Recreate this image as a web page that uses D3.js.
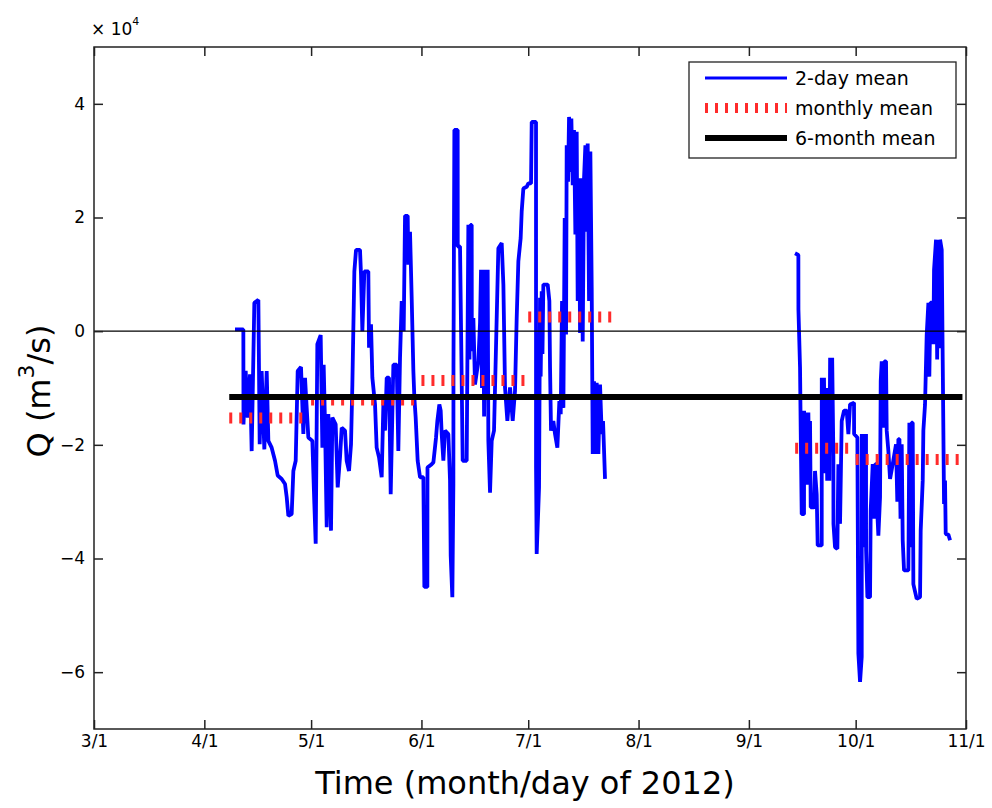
<!DOCTYPE html>
<html>
<head>
<meta charset="utf-8">
<script src="https://cdn.jsdelivr.net/npm/d3@7"></script>
<style>
  body { margin: 0; background: #fff; }
  text { font-family: "DejaVu Sans", sans-serif; fill: #000; }
</style>
</head>
<body>
<script>
// 2-day mean discharge, [days since 3/1/2012, Q in m3/s]
const springSeries = [
  [39.62, 300], [41.96, 300], [42.0, -16400], [42.62, -7000], [43.18, -15200], [43.83, -7600],
  [44.30, -21100], [45.05, 5000], [46.18, 5500], [46.55, -19900], [47.11, -7000], [47.86, -20800],
  [48.52, -7000], [48.99, -19300], [49.92, -20500], [50.86, -22800], [51.61, -25400], [52.73, -26000],
  [53.67, -26900], [54.14, -29200], [54.61, -32500], [55.54, -32200], [56.01, -24600], [56.67, -22800],
  [57.23, -7000], [58.16, -6300], [58.82, -18100], [59.29, -8200], [60.22, -18700], [61.35, -19300],
  [61.91, -30400], [62.29, -37400], [62.75, -2300], [63.69, -700], [64.16, -20500], [64.53, -5900],
  [64.91, -16400], [65.38, -34500], [65.84, -14600], [66.59, -35100], [66.97, -15200], [67.90, -16400],
  [68.47, -27500], [69.12, -22200], [69.59, -17000], [70.53, -17500], [70.99, -22800], [71.65, -24600],
  [72.21, -19900], [72.59, -9400], [73.15, 10500], [73.62, 14300], [74.74, 14300], [75.02, 9900],
  [75.40, 0], [75.96, 10500], [77.08, 10500], [77.27, -2900], [77.83, 1200], [78.21, -8200],
  [78.96, -12900], [79.42, -20500], [80.08, -22200], [80.83, -25700], [81.30, -12900], [81.77, -17500],
  [82.24, -8200], [82.89, -8200], [83.36, -28700], [84.11, -5900], [85.05, -5900], [85.51, -21100],
  [85.98, -4700], [86.45, 5300], [87.01, 0], [87.39, 20300], [88.14, 20300], [88.32, 11700],
  [88.79, 17500], [89.26, 5800], [89.73, -7000], [90.01, -11700], [90.38, -15200], [90.94, -22800],
  [91.60, -25700], [92.54, -25700], [92.82, -45000], [93.66, -45000], [93.7, -24000], [94.88, -23400],
  [95.35, -23100], [96.10, -18700], [96.47, -15800], [97.03, -12900], [97.41, -14000], [97.69, -18100],
  [98.16, -22800], [98.62, -17500], [99.56, -18100], [100.03, -26300], [100.22, -39500], [100.68, -46800],
  [100.97, -26900], [101.0, -6400], [101.25, 35400], [102.18, 35400], [102.2, 14900], [102.84, 14900],
  [103.59, -22800], [104.71, -22800], [105.18, 18700], [105.5, -5000], [105.8, 18700], [106.12, 18700],
  [106.15, -3500], [106.59, 2300], [107.05, -9400], [107.99, -5300], [108.46, 1500], [108.74, 10800],
  [109.0, -10000], [109.3, 10800], [109.6, -15000], [109.9, 10800], [110.2, -12000], [110.61, 10800],
  [110.80, -19300], [111.27, -28400], [111.74, -19300], [112.39, -17500], [113.61, 14600], [114.55, 15500],
  [115.02, 8200], [115.48, -9900], [116.14, -15800], [116.89, -9900], [117.64, -15800], [118.29, -10500],
  [118.76, 2300], [119.23, 12300], [119.88, 16400], [120.17, 21100], [120.63, 25100], [121.57, 25400],
  [122.04, 26000], [122.79, 26000], [122.98, 36800], [124.19, 36800], [124.2, -24000], [124.38, -39200],
  [125.04, -27500], [125.32, 5900], [125.5, -8000], [125.79, 7000], [126.0, -4000], [126.25, 8200],
  [127.47, 8200], [127.94, 5300], [128.13, -6400], [128.41, -17500], [129.06, -15800], [129.53, -18100],
  [130.19, -20500], [130.75, -12300], [131.13, -14600], [131.50, 5300], [131.88, -13500], [132.25, 19900],
  [132.63, -600], [132.81, 32700], [133.19, 26300], [133.47, 37700], [133.75, 28000], [134.12, 37400],
  [134.50, 25700], [134.87, 35400], [135.25, 17000], [135.62, 35100], [135.90, 5300], [136.28, 26900],
  [136.56, -300], [136.93, 26900], [137.31, -1800], [137.68, 26900], [138.06, 32700], [138.43, 17500],
  [138.71, 33000], [139.09, 5300], [139.46, 31600], [139.84, 7600], [140.12, -21600], [140.49, -8800],
  [140.87, -21600], [141.24, -9100], [141.71, -21600], [142.18, -9400], [142.65, -18100], [143.02, -15800],
  [143.58, -26000]
];

const autumnSeries = [
  [196.96, 13700], [197.90, 13400], [197.92, 3800], [198.37, -6400], [198.56, -17500], [198.84, -32200],
  [199.49, -32200], [199.51, -14000], [199.8, -26000], [200.1, -14300], [200.4, -27000], [200.71, -14300],
  [200.95, -25000], [201.18, -15800], [201.37, -31000], [202.30, -31000], [202.58, -24600], [203.05, -28700],
  [203.33, -37700], [204.46, -37700], [204.48, -8200], [204.8, -24000], [205.1, -8200], [205.4, -25000],
  [205.7, -10000], [206.0, -26300], [206.3, -12000], [206.6, -26300], [206.82, -4700], [207.1, -20000],
  [207.4, -4700], [207.74, -22000], [207.76, -33900], [208.20, -38000], [208.86, -38300], [209.14, -23400],
  [209.61, -33900], [210.08, -15800], [210.73, -14000], [211.48, -14000], [211.95, -18100], [212.42, -12900],
  [213.54, -12600], [213.56, -18100], [214.48, -18700], [214.76, -56700], [215.23, -61700], [215.70, -57300],
  [215.72, -18100], [216.0, -36000], [216.3, -18100], [216.6, -38000], [216.91, -18100], [216.93, -38600],
  [217.29, -46800], [218.04, -46800], [218.22, -31600], [218.79, -23400], [219.1, -33000], [219.5, -23400],
  [219.91, -23400], [220.10, -32200], [220.38, -36000], [220.85, -29200], [221.04, -8800], [221.32, -5300],
  [221.7, -17000], [222.1, -5300], [222.53, -5300], [222.72, -17500], [223.19, -21100], [223.66, -26000],
  [224.41, -23400], [225.34, -19900], [225.7, -30000], [226.00, -19000], [226.3, -19000], [226.6, -33000],
  [226.94, -19900], [227.22, -36800], [227.59, -42100], [228.81, -42100], [229.00, -24600], [229.09, -16100],
  [229.4, -38000], [229.7, -16100], [230.03, -16100], [230.21, -44500], [231.15, -47100], [232.09, -46800],
  [232.27, -35100], [232.84, -26300], [233.02, -17500], [233.49, -12900], [233.96, -600], [234.43, 5000],
  [234.7, -8000], [235.0, 5000], [235.37, 5000], [235.83, -2300], [236.02, 10800], [236.58, 16100],
  [236.9, -5000], [237.2, 16100], [237.45, -3000], [237.71, 16100], [238.18, 14300], [238.46, -5300],
  [238.64, -17500], [238.83, -30400], [239.11, -26300], [239.30, -35700], [240.05, -35800], [240.52, -36800]
];

// monthly means
const monthStart = ['2012-04-08', '2012-05-01', '2012-06-01', '2012-07-01', '2012-09-14', '2012-10-01'];
const monthEnd = ['2012-04-30', '2012-05-31', '2012-06-30', '2012-07-25', '2012-09-30', '2012-10-31'];
const monthMean = [-15300, -12100, -8700, 2500, -20600, -22600];

// 6-month mean
const halfYearSpan = ['2012-04-08', '2012-10-31'];
const halfYearMean = -11600;

const tickDates = ['2012-03-01', '2012-04-01', '2012-05-01', '2012-06-01', '2012-07-01',
  '2012-08-01', '2012-09-01', '2012-10-01', '2012-11-01'];
const tickLabels = ['3/1', '4/1', '5/1', '6/1', '7/1', '8/1', '9/1', '10/1', '11/1'];
const yTicks = [-60000, -40000, -20000, 0, 20000, 40000];

const legendNames = ['2-day mean', 'monthly mean', '6-month mean'];

// canvas
var width = 992;
var height = 808;
var plotL = 94, plotR = 966, plotT = 47, plotB = 729;
var x, y, svg;

const t0 = Date.UTC(2012, 2, 1);
const parseDay = d3.utcParse('%Y-%m-%d');
const dayToDate = d => new Date(t0 + d * 864e5);

svg = d3.select('body').append('svg')
  .attr('width', width)
  .attr('height', height)
  .style('background-color', 'white');

configureScales();
drawSeries();
drawMeans();
drawAxes();
drawLegend();
drawLabels();

function configureScales() {
  x = d3.scaleUtc()
    .domain([parseDay(tickDates[0]), parseDay(tickDates[tickDates.length - 1])])
    .range([plotL, plotR]);
  y = d3.scaleLinear()
    .domain([-70000, 50000])
    .range([plotB, plotT]);
}

function drawSeries() {
  const line = d3.line()
    .x(d => x(dayToDate(d[0])))
    .y(d => y(d[1]));

  [springSeries, autumnSeries].forEach(s => {
    svg.append('path')
      .datum(s)
      .attr('fill', 'none')
      .attr('stroke', '#0000ff')
      .attr('stroke-width', 3.8)
      .attr('stroke-linejoin', 'bevel')
      .attr('d', line);
  });
}

function drawMeans() {
  monthMean.forEach((m, i) => {
    svg.append('line')
      .attr('x1', x(parseDay(monthStart[i])))
      .attr('x2', x(parseDay(monthEnd[i])))
      .attr('y1', y(m))
      .attr('y2', y(m))
      .attr('stroke', '#ff2b2b')
      .attr('stroke-width', 11)
      .attr('stroke-dasharray', '3,7');
  });

  svg.append('line')
    .attr('x1', x(parseDay(halfYearSpan[0])))
    .attr('x2', x(parseDay(halfYearSpan[1])))
    .attr('y1', y(halfYearMean))
    .attr('y2', y(halfYearMean))
    .attr('stroke', '#000')
    .attr('stroke-width', 6);

  // zero line
  svg.append('line')
    .attr('x1', plotL).attr('x2', plotR)
    .attr('y1', y(0)).attr('y2', y(0))
    .attr('stroke', '#000')
    .attr('stroke-width', 1.3);
}

function drawAxes() {
  const xTickVals = tickDates.map(parseDay);

  const gx = svg.append('g')
    .attr('transform', 'translate(0,' + plotB + ')')
    .call(d3.axisBottom(x).tickValues(xTickVals).tickSize(-9).tickPadding(6)
      .tickFormat((d, i) => tickLabels[i]));
  const gxTop = svg.append('g')
    .attr('transform', 'translate(0,' + plotT + ')')
    .call(d3.axisTop(x).tickValues(xTickVals).tickSize(-9).tickFormat(''));

  const gy = svg.append('g')
    .attr('transform', 'translate(' + plotL + ',0)')
    .call(d3.axisLeft(y).tickValues(yTicks).tickSize(-9).tickPadding(9)
      .tickFormat(d => d3.format('d')(d / 1e4)));
  const gyRight = svg.append('g')
    .attr('transform', 'translate(' + plotR + ',0)')
    .call(d3.axisRight(y).tickValues(yTicks).tickSize(-9).tickFormat(''));

  [gx, gxTop, gy, gyRight].forEach(g => {
    g.select('.domain').remove();
    g.selectAll('line').attr('stroke', '#222').attr('stroke-width', 1.5);
    g.selectAll('text').style('font-size', '17px').style('font-family', '"DejaVu Sans", sans-serif');
  });

  svg.append('rect')
    .attr('x', plotL).attr('y', plotT)
    .attr('width', plotR - plotL).attr('height', plotB - plotT)
    .attr('fill', 'none')
    .attr('stroke', '#222')
    .attr('stroke-width', 1.5);
}

function drawLegend() {
  const lg = svg.append('g').attr('transform', 'translate(689,62)');
  lg.append('rect')
    .attr('width', 267).attr('height', 96)
    .attr('fill', '#fff')
    .attr('stroke', '#222')
    .attr('stroke-width', 1.3);

  const styles = [
    { stroke: '#0000ff', w: 3, dash: null },
    { stroke: '#ff2b2b', w: 10, dash: '3,7' },
    { stroke: '#000', w: 6, dash: null }
  ];
  legendNames.forEach((name, i) => {
    const yy = 16 + i * 30;
    lg.append('line')
      .attr('x1', 16).attr('x2', 98)
      .attr('y1', yy).attr('y2', yy)
      .attr('stroke', styles[i].stroke)
      .attr('stroke-width', styles[i].w)
      .attr('stroke-dasharray', styles[i].dash);
    lg.append('text')
      .attr('x', 106).attr('y', yy + 7)
      .style('font-size', '19px')
      .text(name);
  });
}

function drawLabels() {
  svg.append('text')
    .attr('x', (plotL + plotR) / 2 - 5)
    .attr('y', 794)
    .attr('text-anchor', 'middle')
    .style('font-size', '32px')
    .text('Time (month/day of 2012)');

  const yl = svg.append('text')
    .attr('transform', 'translate(50,391) rotate(-90)')
    .attr('text-anchor', 'middle')
    .style('font-size', '32px');
  yl.append('tspan').text('Q (m');
  yl.append('tspan').attr('dy', -16).style('font-size', '22px').text('3');
  yl.append('tspan').attr('dy', 16).text('/s)');

  const sc = svg.append('text')
    .attr('x', 91).attr('y', 35)
    .style('font-size', '17px');
  sc.append('tspan').text('\u00d7 10');
  sc.append('tspan').attr('dy', -10).style('font-size', '11px').text('4');
}
</script>
</body>
</html>
